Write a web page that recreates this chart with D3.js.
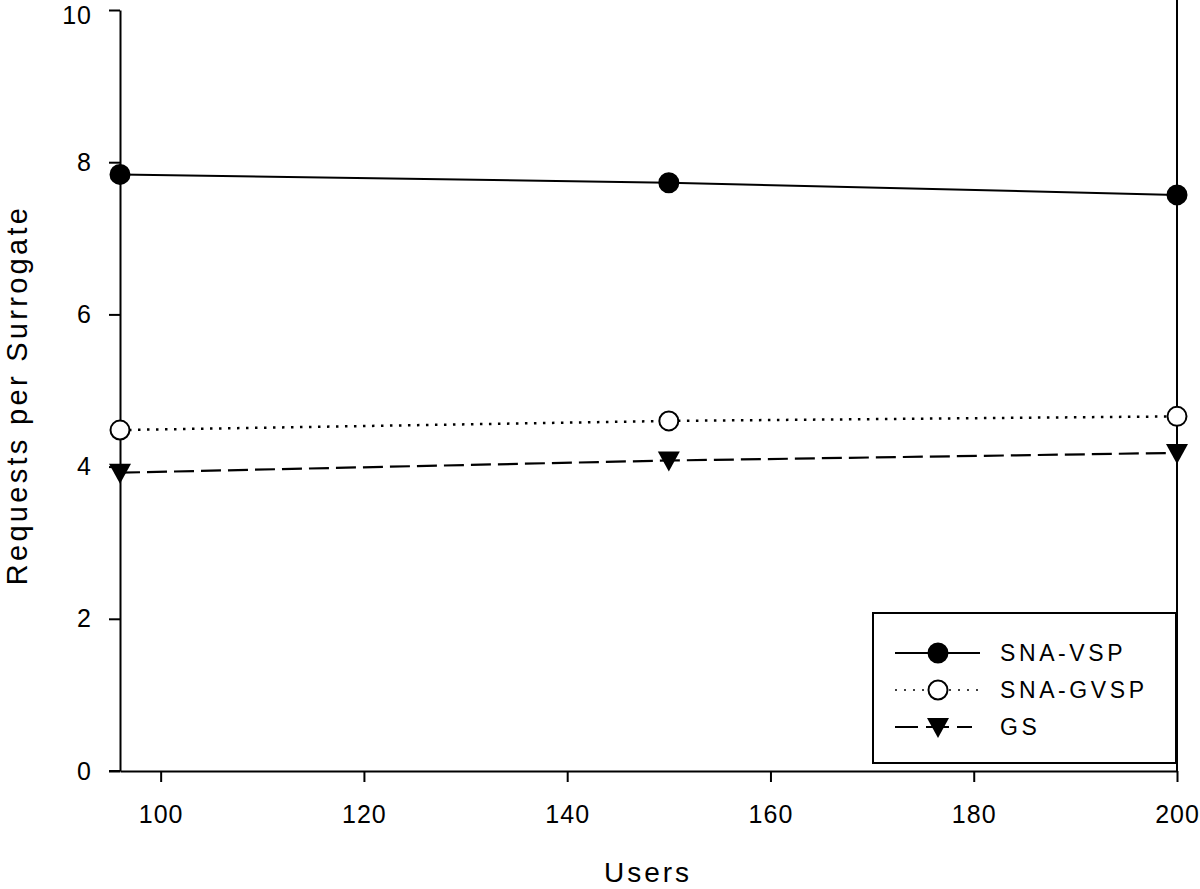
<!DOCTYPE html>
<html><head><meta charset="utf-8">
<script src="https://cdn.jsdelivr.net/npm/d3@7"></script>
<style>body{margin:0;background:#fff}svg{display:block}text{font-family:"Liberation Sans",Arial,sans-serif;fill:#000}</style>
</head><body><svg id="c" width="1200" height="889"></svg>
<script>
const users = [96, 150, 200];
const snaVsp = [7.84, 7.73, 7.57];
const snaGvsp = [4.48, 4.60, 4.66];
const gs = [3.92, 4.08, 4.18];
const seriesNames = ["SNA-VSP", "SNA-GVSP", "GS"];
const xTicks = [100, 120, 140, 160, 180, 200];
const yTicks = [0, 2, 4, 6, 8, 10];

const svg = d3.select("#c");
const L = 120, R = 1177, T = 10, B = 771;
const x = d3.scaleLinear().domain([96, 200]).range([L, R]);
const y = d3.scaleLinear().domain([0, 10]).range([B, T]);

const series = [
  {name: seriesNames[0], vals: snaVsp, style: "solid", marker: "filled"},
  {name: seriesNames[1], vals: snaGvsp, style: "dot", marker: "open"},
  {name: seriesNames[2], vals: gs, style: "dash", marker: "tri"}
];
const dashes = {solid: null, dot: "2.5,6.5", dash: "20,7"};
const widths = {solid: 2, dot: 2.5, dash: 2.2};

// axes
const xAxis = svg.append("g").attr("transform", `translate(0,${B})`)
  .call(d3.axisBottom(x).tickValues(xTicks).tickSize(11).tickPadding(23).tickSizeOuter(0));
const yAxis = svg.append("g").attr("transform", `translate(${L},0)`)
  .call(d3.axisLeft(y).tickValues(yTicks).tickSize(11).tickPadding(17).tickSizeOuter(0));
[xAxis, yAxis].forEach(a => {
  a.select(".domain").attr("stroke", "#000").attr("stroke-width", 2);
  a.selectAll(".tick line").attr("stroke", "#000").attr("stroke-width", 2);
  a.selectAll(".tick text").attr("font-size", 25).attr("letter-spacing", 1)
    .attr("font-family", '"Liberation Sans",Arial,sans-serif').attr("fill", "#000");
});
// keep the top tick label inside the picture
yAxis.selectAll(".tick text").filter(d => d === 10).attr("dy", "0.52em");
// extend bottom axis line left to tick end
svg.append("line").attr("x1", L - 11).attr("x2", L).attr("y1", B).attr("y2", B).attr("stroke", "#000").attr("stroke-width", 2);
// right border
svg.append("line").attr("x1", R).attr("x2", R).attr("y1", 0).attr("y2", B).attr("stroke", "#000").attr("stroke-width", 2);

// axis titles
svg.append("text").attr("x", 648).attr("y", 882).attr("text-anchor", "middle")
  .attr("font-size", 28).attr("letter-spacing", 3).text("Users");
svg.append("text").attr("transform", `translate(27,${395}) rotate(-90)`)
  .attr("text-anchor", "middle").attr("font-size", 29).attr("letter-spacing", 3.3).text("Requests per Surrogate");

function drawMarker(g, type, cx, cy) {
  if (type === "tri") {
    g.append("path").attr("d", `M${cx - 11},${cy - 9}L${cx + 11},${cy - 9}L${cx},${cy + 11}Z`).attr("fill", "#000");
  } else {
    g.append("circle").attr("cx", cx).attr("cy", cy).attr("r", 9.5)
      .attr("fill", type === "filled" ? "#000" : "#fff").attr("stroke", "#000").attr("stroke-width", 2);
  }
}

const line = d3.line().x((d, i) => x(users[i])).y(d => y(d));
series.forEach(s => {
  svg.append("path").attr("d", line(s.vals)).attr("fill", "none").attr("stroke", "#000")
    .attr("stroke-width", widths[s.style]).attr("stroke-dasharray", dashes[s.style]);
  const g = svg.append("g");
  s.vals.forEach((v, i) => drawMarker(g, s.marker, x(users[i]), y(v)));
});

// legend
const lg = svg.append("g");
lg.append("rect").attr("x", 873).attr("y", 613).attr("width", 303).attr("height", 150)
  .attr("fill", "#fff").attr("stroke", "#000").attr("stroke-width", 2);
const rowsY = [653, 690, 727];
const legDash = {solid: null, dot: "2,7", dash: "23,8"};
series.forEach((s, i) => {
  const yy = rowsY[i];
  lg.append("line").attr("x1", 895).attr("x2", s.style === "dash" ? 972 : 980).attr("y1", yy).attr("y2", yy)
    .attr("stroke", "#000").attr("stroke-width", s.style === "dot" ? 1.5 : 2)
    .attr("stroke-dasharray", legDash[s.style]);
  drawMarker(lg, s.marker, 938, yy);
  lg.append("text").attr("x", 1000).attr("y", yy + 8).attr("font-size", 23).attr("letter-spacing", 3.6).text(s.name);
});
</script></body></html>
